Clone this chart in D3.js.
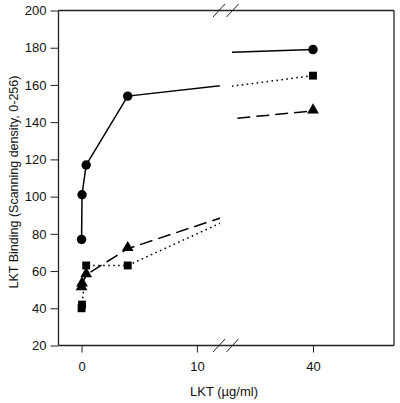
<!DOCTYPE html>
<html><head><meta charset="utf-8">
<script src="https://cdn.jsdelivr.net/npm/d3@7"></script>
<style>body{margin:0;background:#fff}svg{display:block}text{font-family:"Liberation Sans",Arial,sans-serif;fill:#111}</style>
</head><body><svg id="c" width="400" height="403"></svg>
<script>
const concentrations = [0, 0.04, 0.4, 4, 40];
const circleValues   = [77, 101, 117, 154, 179];
const squareValues   = [40, 42, 63, 63, 165];
const triangleValues = [51, 53, 58, 72, 146];
const yTicks = [20, 40, 60, 80, 100, 120, 140, 160, 180, 200];
const xTicksLeft = [0, 10];
const xTicksRight = [40];

const svg = d3.select("#c");
const L = 58.5, R = 394, T = 10.5, B = 345.5;
const brkL = 220, brkR = 232;
const xL = d3.scaleLinear().domain([-2, 12]).range([L, brkL]);
const xR = d3.scaleLinear().domain([38, 42]).range([brkR, R]);
const y = d3.scaleLinear().domain([20, 200]).range([B, T]);

const defs = svg.append("defs");
defs.append("clipPath").attr("id","clipL").append("rect").attr("x",L).attr("y",0).attr("width",brkL-L).attr("height",403);
defs.append("clipPath").attr("id","clipR").append("rect").attr("x",brkR).attr("y",0).attr("width",R-brkR).attr("height",403);

const series = [
  {vals: circleValues, dash: null, shape: d3.symbolCircle, size: 70},
  {vals: squareValues, dash: "1.6,3.4", shape: d3.symbolSquare, size: 62},
  {vals: triangleValues, dash: "13,6", shape: d3.symbolTriangle, size: 60}
];

series.forEach(s => {
  const pts = concentrations.map((c,i)=>[c, s.vals[i]]);
  [[xL,"clipL"],[xR,"clipR"]].forEach(([sx,clip]) => {
    const line = d3.line().x(d=>sx(d[0])).y(d=>y(d[1]));
    svg.append("path").attr("d", line(pts)).attr("fill","none")
      .attr("stroke","#000").attr("stroke-width",1.5)
      .attr("stroke-dasharray", s.dash).attr("clip-path",`url(#${clip})`);
  });
});
series.forEach(s => {
  concentrations.forEach((c,i) => {
    const px = c <= 12 ? xL(c) : xR(c);
    svg.append("path").attr("d", d3.symbol().type(s.shape).size(s.size)())
      .attr("transform",`translate(${px},${y(s.vals[i]) + (s.shape===d3.symbolTriangle?-1:0)})`)
      .attr("fill","#000");
  });
});

const fr = svg.append("g").attr("stroke","#222").attr("stroke-width",1.3).attr("fill","none");
fr.append("line").attr("x1",L).attr("x2",L).attr("y1",T).attr("y2",B);
fr.append("line").attr("x1",R).attr("x2",R).attr("y1",T).attr("y2",B);
[T,B].forEach(yy => {
  fr.append("line").attr("x1",L).attr("x2",R).attr("y1",yy).attr("y2",yy);
  [219, 232.5].forEach(bx => {
    fr.append("line").attr("x1",bx-6).attr("x2",bx+6).attr("y1",yy+6.5).attr("y2",yy-6.5).attr("stroke-width",1);
  });
});

const ya = svg.append("g").attr("transform",`translate(${L},0)`)
  .call(d3.axisLeft(y).tickValues(yTicks).tickSize(8).tickPadding(4));
ya.select(".domain").remove();
ya.selectAll("line").attr("stroke","#222");
ya.selectAll("text").attr("font-size",13).attr("fill","#111");

[[xL,xTicksLeft],[xR,xTicksRight]].forEach(([sx,tv]) => {
  const g = svg.append("g").attr("transform",`translate(0,${B})`)
    .call(d3.axisBottom(sx).tickValues(tv).tickFormat(d3.format("d")).tickSize(7).tickPadding(9));
  g.select(".domain").remove();
  g.selectAll("line").attr("stroke","#222");
  g.selectAll("text").attr("font-size",13).attr("fill","#111");
});

svg.append("text").attr("x",224).attr("y",396).attr("text-anchor","middle")
  .attr("font-size",13).text("LKT (µg/ml)");
svg.append("text").attr("transform","translate(18,182) rotate(-90)").attr("text-anchor","middle")
  .attr("font-size",12.5).text("LKT Binding (Scanning density, 0-256)");
</script></body></html>
